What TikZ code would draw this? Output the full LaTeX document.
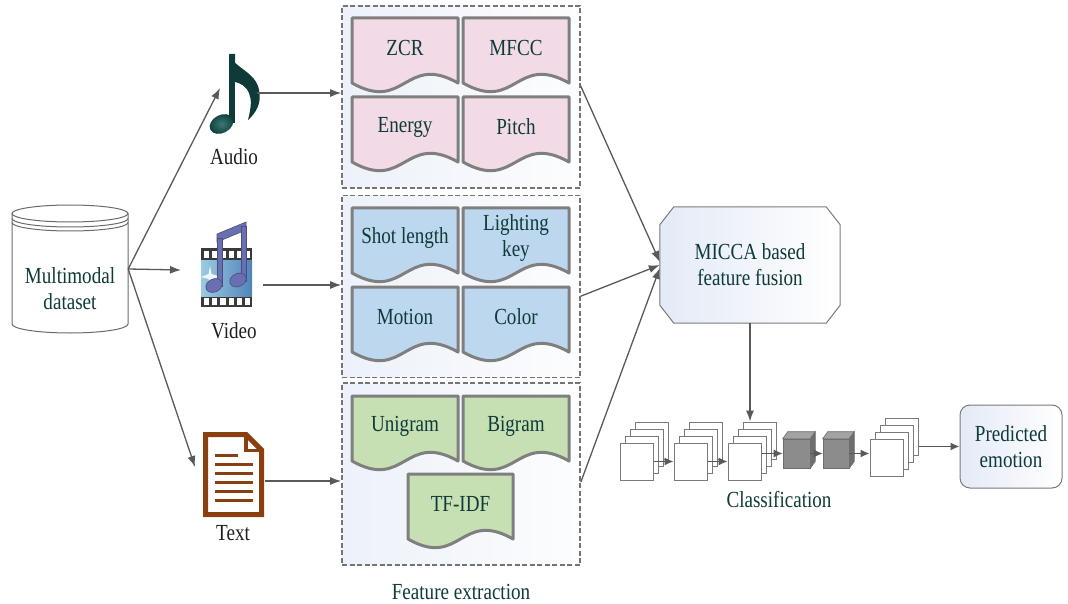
\documentclass[tikz,border=0pt]{standalone}
\usepackage{fontspec}
\setmainfont{Liberation Serif}[FakeStretch=0.83]
\usetikzlibrary{arrows.meta,calc}

\definecolor{txt}{HTML}{0F3A3A}
\definecolor{lbltxt}{HTML}{1E1E1E}
\definecolor{conn}{HTML}{595959}
\definecolor{docline}{HTML}{7F7F7F}
\definecolor{grpline}{HTML}{747474}
\definecolor{cylline}{HTML}{6A6A6A}
\definecolor{pinkf}{HTML}{F2DAE6}
\definecolor{bluef}{HTML}{BDD7EE}
\definecolor{greenf}{HTML}{C6E0B4}
\definecolor{groupl}{HTML}{EDF1F9}
\definecolor{groupr}{HTML}{FCFDFE}
\definecolor{nodel}{HTML}{E4EAF6}
\definecolor{notec}{HTML}{0E3B38}
\definecolor{notehi}{HTML}{3A7A74}
\definecolor{filmnote}{HTML}{6A6FB3}
\definecolor{filmdark}{HTML}{3A3A3C}
\definecolor{filml}{HTML}{9CCBE3}
\definecolor{filmr}{HTML}{4F84B8}
\definecolor{brownc}{HTML}{8A3F10}
\definecolor{cubef}{HTML}{8C8C8C}
\definecolor{cubes}{HTML}{6E6E6E}
\definecolor{cubet}{HTML}{A3A3A3}
\definecolor{sqline}{HTML}{7A7A7A}

% document-shaped feature box: name, left x, top y, width, fill colour, text
\newcommand\docbox[6]{%
  \path[draw=docline, line width=3pt, fill=#5, line join=round]
    (#2,#3) -- ++(#4,0) -- ++(0,65)
    .. controls +(-#4/2,-30) and +(#4/2,30) .. ++(-#4,0) -- cycle;
  \node[lbl] (#1) at ({#2+#4/2},{#3+30}) {#6};
}

% stack of four feature maps: name, front left x, front top y
\newcommand\cstack[3]{%
  \foreach \i in {3,2,1,0}{
    \node[sq] (#1\i) at ({#2+16.5+5*\i},{#3+18.5-7*\i}) {};
  }
}

% grey cube: name, centre x, centre y, width
\newcommand\cubenode[4]{%
  \node[cubefront, minimum width=#4] (#1) at (#2,#3) {};
  \path[fill=cubet, draw=cubes, line width=0.6pt]
    (#1.north west) -- ++(5,-7) -- ($(#1.north east)+(5,-7)$) -- (#1.north east) -- cycle;
  \path[fill=cubes, draw=cubes, line width=0.6pt]
    (#1.north east) -- ++(5,-7) -- ($(#1.south east)+(5,-7)$) -- (#1.south east) -- cycle;
}

\begin{document}
\begin{tikzpicture}[x=1pt,y=-1pt,
  conn/.style={draw=conn, line width=1.3pt, -{Latex[length=11pt,width=8pt]}},
  sconn/.style={draw=conn, line width=1.3pt, -{Latex[length=9pt,width=8pt]}},
  lbl/.style={text=txt, font=\fontsize{23}{26}\selectfont, align=center, inner sep=0pt},
  iconlbl/.style={text=lbltxt, font=\fontsize{23}{26}\selectfont, inner sep=0pt},
  group/.style={draw=grpline, dash pattern=on 5pt off 2.5pt, line width=1.6pt,
    left color=groupl, right color=groupr,
    minimum width=238pt, minimum height=182pt, inner sep=0pt},
  sq/.style={draw=sqline, line width=1pt, fill=white,
    minimum width=33pt, minimum height=37pt, inner sep=0pt},
  cubefront/.style={draw=cubes, line width=0.6pt, fill=cubef,
    minimum height=29pt, inner sep=0pt},
  ghost/.style={inner sep=0pt, draw=none},
]
\useasboundingbox (0,0) rectangle (1068,604);

% ---------- dataset cylinder ----------
\path[fill=white, draw=cylline, line width=1pt]
  (12,213.5) -- (12,324) arc[start angle=180, end angle=360, x radius=58pt, y radius=9pt]
  -- (128,213.5);
\draw[cylline, line width=1pt, fill=white] (70,213.5) ellipse [x radius=58pt, y radius=8.5pt];
\draw[cylline, line width=1pt] (12,218.5) arc[start angle=180, end angle=360, x radius=58pt, y radius=8.5pt];
\draw[cylline, line width=1pt] (12,222.5) arc[start angle=180, end angle=360, x radius=58pt, y radius=8.5pt];
\node[ghost, minimum width=116pt, minimum height=128pt] (db) at (70,269) {};
\node[lbl] (dbtext) at (70,289) {Multimodal\\dataset};

% ---------- audio icon (eighth note) ----------
\fill[notec] (229,55) rectangle (235,123);
\fill[notec] (229,54) .. controls (234,68) and (256,72) .. (259,90)
  .. controls (262,103) and (256,113) .. (248,120)
  .. controls (251,108) and (252,100) .. (249,93)
  .. controls (246,86) and (240,83) .. (235,82) -- (235,54) -- cycle;
\shade[inner color=notehi, outer color=notec, rotate around={28:(221.5,124)}]
  (221.5,124) ellipse [x radius=12.5pt, y radius=9pt];
\node[ghost, minimum width=56pt, minimum height=86pt] (audio) at (234,96) {};
\node[iconlbl] (audiolbl) at (234,157) {Audio};

% ---------- video icon (film strip with notes) ----------
\fill[filmdark] (201,248) rectangle (252,307);
\shade[left color=filml, right color=filmr] (201,260) rectangle (252,296);
\foreach \k in {0,...,5}{
  \fill[white] ({204+8.2*\k},250.5) rectangle +(5.2,7);
  \fill[white] ({204+8.2*\k},297.5) rectangle +(5.2,7);
}
\fill[white, opacity=0.85] (210,266) -- (211.5,274) -- (222,277) -- (211.5,279)
  -- (210,287) -- (208.5,279) -- (201,277) -- (208.5,274) -- cycle;
\path[fill=filmnote, draw=filmnote!70!black, line width=0.6pt]
  (217,234) -- (246,222) -- (246,230) -- (217,242) -- cycle;
\path[fill=filmnote, draw=filmnote!70!black, line width=0.6pt] (217.5,238) rectangle (222,286);
\path[fill=filmnote, draw=filmnote!70!black, line width=0.6pt] (241.5,226) rectangle (246,281);
\path[fill=filmnote, draw=filmnote!70!black, line width=0.6pt, rotate around={25:(214,285.5)}]
  (214,285.5) ellipse [x radius=8.5pt, y radius=6.5pt];
\path[fill=filmnote, draw=filmnote!70!black, line width=0.6pt, rotate around={25:(238,280)}]
  (238,280) ellipse [x radius=8.5pt, y radius=6.5pt];
\node[ghost, minimum width=52pt, minimum height=84pt] (video) at (226.5,265) {};
\node[iconlbl] (videolbl) at (234,331) {Video};

% ---------- text icon (document) ----------
\path[draw=brownc, line width=5pt, fill=white, line join=miter]
  (205.5,434.5) -- (246,434.5) -- (261.5,450) -- (261.5,514.5) -- (205.5,514.5) -- cycle;
\draw[brownc, line width=3.5pt] (246,434.5) -- (246,450.5) -- (261.5,450.5);
\draw[brownc, line width=3pt] (215,455) -- (238,455);
\foreach \yy in {464,473,482,491,500}{
  \draw[brownc, line width=3pt] (215,\yy) -- (253,\yy);
}
\node[ghost, minimum width=61pt, minimum height=85pt] (textdoc) at (233.5,474.5) {};
\node[iconlbl] (textlbl) at (233,533) {Text};

% ---------- feature extraction groups ----------
\node[group] (gaudio) at (461,97) {};
\node[group] (gvideo) at (461,286.5) {};
\node[group] (gtext) at (461,474) {};

\docbox{zcr}{352}{18}{106}{pinkf}{ZCR}
\docbox{mfcc}{463}{18}{106}{pinkf}{MFCC}
\docbox{energy}{352}{97}{106}{pinkf}{Energy}
\docbox{pitch}{463}{97}{106}{pinkf}{Pitch}
\docbox{shot}{352}{208}{106}{bluef}{Shot length}
\docbox{light}{463}{208}{106}{bluef}{Lighting\\key}
\docbox{motion}{352}{287}{106}{bluef}{Motion}
\docbox{color}{463}{287}{106}{bluef}{Color}
\docbox{unigram}{352}{396}{106}{greenf}{Unigram}
\docbox{bigram}{463}{396}{106}{greenf}{Bigram}
\docbox{tfidf}{408}{474}{105}{greenf}{TF-IDF}

\node[lbl] (fe) at (461,592) {Feature extraction};

% ---------- fusion node ----------
\node[ghost, minimum width=180pt, minimum height=116pt] (micca) at (750,265) {};
\path[draw=sqline, line width=1pt, left color=nodel, right color=white]
  ($(micca.north west)+(14,0)$) -- ($(micca.north east)+(-14,0)$)
  -- ($(micca.north east)+(0,18)$) -- ($(micca.south east)+(0,-18)$)
  -- ($(micca.south east)+(-14,0)$) -- ($(micca.south west)+(14,0)$)
  -- ($(micca.south west)+(0,-18)$) -- ($(micca.north west)+(0,18)$) -- cycle;
\node[lbl] (miccatext) at (micca.center) {MICCA based\\feature fusion};

% ---------- classification network ----------
\cstack{s1}{620}{443}
\cstack{s2}{674}{443}
\cstack{s3}{728}{443}
\cubenode{c1}{796.5}{453.5}{27pt}
\cubenode{c2}{836}{453.5}{26pt}
\cstack{s4}{870}{439}
\node[lbl] (cls) at (779,500) {Classification};

\node[lbl, draw=sqline, line width=1pt, rounded corners=10pt, left color=nodel, right color=white,
  minimum width=102pt, minimum height=83pt] (pred) at (1011,446.5) {Predicted\\emotion};

% ---------- connectors ----------
\coordinate (audioIn) at (220,88);
\coordinate (videoIn) at (181,270);
\coordinate (textIn) at (195,467);
\draw[conn] (db.east) -- (audioIn);
\draw[conn] (db.east) -- (videoIn);
\draw[conn] (db.east) -- (textIn);

\coordinate (audioOut) at (257,93);
\coordinate (videoOut) at (263,285);
\coordinate (textOut) at (265,481);
\draw[conn] (audioOut) -- (audioOut -| gaudio.west);
\draw[conn] (videoOut) -- (videoOut -| gvideo.west);
\draw[conn] (textOut) -- (textOut -| gtext.west);

\draw[conn] ($(gaudio.north east)+(0,81)$) -- ($(micca.west)+(0,-3)$);
\draw[conn] ($(gvideo.north east)+(0,101.5)$) -- (micca.west);
\draw[conn] ($(gtext.north east)+(0,100)$) -- ($(micca.west)+(0,3)$);

\draw[conn] (micca.south) -- (micca.south |- s33.north);

\draw[sconn] (s10.east) -- (s20.west);
\draw[sconn] (s20.east) -- (s30.west);
\draw[sconn] (s30.east |- c1.west) -- (c1.west);
\draw[sconn] (c1.east) -- (c2.west);
\draw[sconn] (c2.east) -- (c2.east -| s40.west);
\draw[sconn] (pred.west -| s43.east) -- (pred.west);
\end{tikzpicture}
\end{document}
